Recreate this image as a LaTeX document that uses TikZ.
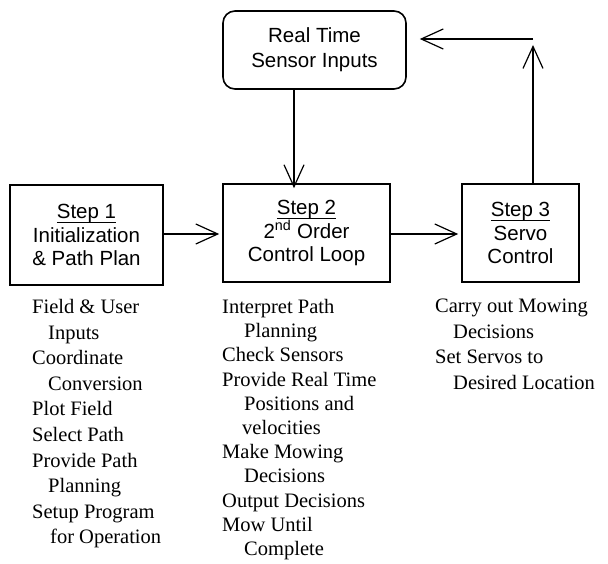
\documentclass[tikz,border=0pt]{standalone}
\usepackage{fontspec}
\setmainfont{Liberation Serif}
\setsansfont{Liberation Sans}
\usetikzlibrary{arrows.meta}
\tikzset{
  box/.style={draw, line width=1.6pt, inner sep=0pt, font=\sffamily\fontsize{20.5}{23.5}\selectfont, align=center},
  listtext/.style={anchor=north west, inner sep=0pt, align=left, font=\rmfamily\fontsize{20.5}{25.6}\selectfont},
  conn/.style={line width=1.2pt, -{Straight Barb[length=22pt,width=20pt,line width=1.2pt]}},
  plain/.style={line width=1.2pt}
}
\newcommand{\ind}[1]{\hspace*{#1}}
\newcommand{\stepul}[1]{\setbox0\hbox{#1}\rlap{\rule[-4.6pt]{\wd0}{1.1pt}}\box0}
\begin{document}
\begin{tikzpicture}[x=1pt,y=-1pt]
\useasboundingbox (0,0) rectangle (608,564);
% boxes
\node[box, rounded corners=12pt, minimum width=183pt, minimum height=78pt, font=\sffamily\fontsize{20.5}{25}\selectfont] (sensor) at (314.5,50) {Real Time\\Sensor Inputs};
\node[box, minimum width=153pt, minimum height=100pt] (s1) at (86.5,235) {\stepul{Step 1}\\Initialization\\\& Path Plan};
\node[box, minimum width=167pt, minimum height=98pt] (s2) at (306.5,233) {\stepul{Step 2}\\2\textsuperscript{nd} Order\\Control Loop};
\node[box, minimum width=117pt, minimum height=98pt] (s3) at (520.5,233) {\stepul{Step 3}\\Servo\\Control};
% connectors
\coordinate (corner) at (533,39);
\draw[conn] (s1.east |- 0,234) -- ([xshift=-3pt]s2.west |- 0,234);
\draw[conn] (s2.east |- 0,234) -- ([xshift=-3pt]s3.west |- 0,234);
\draw[conn] (294,0 |- sensor.south) -- ([yshift=-5pt]294,0 |- s2.north);
\draw[conn] (533,0 |- s3.north) -- (533,45);
\draw[conn] (corner) -- ([xshift=13pt]sensor.east |- corner);
% lists
\node[listtext] (l1) at (32,299) {Field \& User\\\ind{16pt}Inputs\\Coordinate\\\ind{16pt}Conversion\\Plot Field\\Select Path\\Provide Path\\\ind{16pt}Planning\\Setup Program\\\ind{18pt}for Operation};
\node[listtext, font=\rmfamily\fontsize{20.5}{24.2}\selectfont] (l2) at (222,299) {Interpret Path\\\ind{22pt}Planning\\Check Sensors\\Provide Real Time\\\ind{22pt}Positions and\\\ind{20pt}velocities\\Make Mowing\\\ind{22pt}Decisions\\Output Decisions\\Mow Until\\\ind{22pt}Complete};
\node[listtext] (l3) at (435,299) {Carry out Mowing\\\ind{18pt}Decisions\\Set Servos to\\\ind{18pt}Desired Location};
\end{tikzpicture}
\end{document}
